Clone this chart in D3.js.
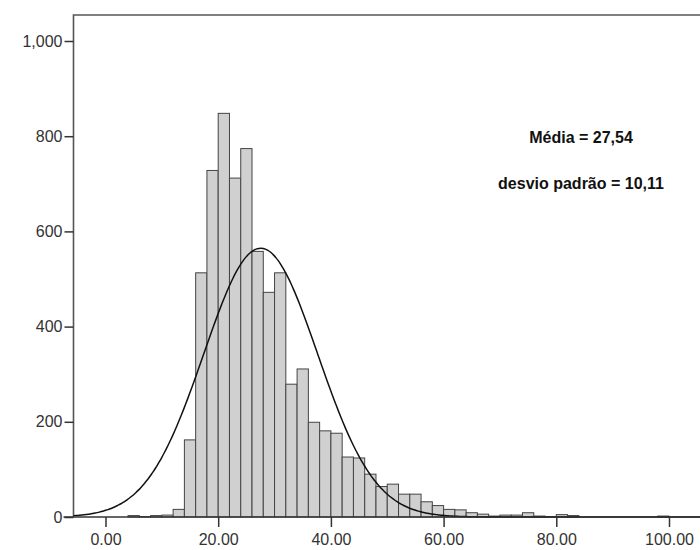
<!DOCTYPE html>
<html>
<head>
<meta charset="utf-8">
<script src="https://cdn.jsdelivr.net/npm/d3@7"></script>
<style>
  html, body { margin: 0; padding: 0; background: #fff; }
  svg { display: block; font-family: Arial, "Liberation Sans", sans-serif; }
</style>
</head>
<body>
<svg id="chart" width="700" height="550"></svg>
<script>
// Histogram: lower edge of each 2-unit bin and its frequency
const binLower = [4, 6, 8, 10, 12, 14, 16, 18, 20, 22, 24, 26, 28, 30, 32, 34, 36, 38, 40, 42,
                  44, 46, 48, 50, 52, 54, 56, 58, 60, 62, 64, 66, 68, 70, 72, 74, 76, 78, 80, 82, 98];
const binCount = [3, 1, 3, 4, 16, 162, 513, 728, 848, 712, 774, 558, 472, 513, 279, 311, 199, 181, 176, 126,
                  124, 90, 64, 69, 48, 48, 32, 24, 16, 15, 9, 6, 2, 4, 4, 9, 2, 1, 5, 3, 2];
const binWidth = 2;

// Summary statistics shown in the annotation
const mean = 27.54;
const sd = 10.11;

const xTicks = [0, 20, 40, 60, 80, 100];
const yTicks = [0, 200, 400, 600, 800, 1000];

const svg = d3.select("#chart");

const plotLeft = 73.5, plotTop = 15, plotBottom = 517, plotRight = 720;

const x = d3.scaleLinear().domain([0, 100]).range([105.5, 669]);
const y = d3.scaleLinear().domain([0, 1000]).range([plotBottom, 41]);

const bins = binLower.map((b, i) => ({ x0: b, x1: b + binWidth, n: binCount[i] }));
const total = d3.sum(binCount);

// Plot frame (right side runs off the canvas)
svg.append("path")
  .attr("d", `M${plotLeft},${plotBottom} V${plotTop} H${plotRight}`)
  .attr("fill", "none")
  .attr("stroke", "#555")
  .attr("stroke-width", 1.6);

// Bars
svg.append("g").selectAll("rect")
  .data(bins)
  .join("rect")
  .attr("x", d => x(d.x0))
  .attr("width", d => x(d.x1) - x(d.x0))
  .attr("y", d => y(d.n))
  .attr("height", d => y(0) - y(d.n))
  .attr("fill", "#d0d0d0")
  .attr("stroke", "#444")
  .attr("stroke-width", 1);

// Fitted normal curve, scaled to counts per bin
const xMin = x.invert(plotLeft), xMax = x.invert(plotRight);
const curvePts = d3.range(0, 301).map(i => {
  const v = xMin + (xMax - xMin) * i / 300;
  const z = (v - mean) / sd;
  return [v, total * binWidth * Math.exp(-0.5 * z * z) / (sd * Math.sqrt(2 * Math.PI))];
});
svg.append("path")
  .datum(curvePts)
  .attr("d", d3.line().x(d => x(d[0])).y(d => y(d[1])).curve(d3.curveBasis))
  .attr("fill", "none")
  .attr("stroke", "#111")
  .attr("stroke-width", 1.5);

// Y axis
const yAxis = svg.append("g")
  .attr("transform", `translate(${plotLeft},0)`)
  .call(d3.axisLeft(y).tickValues(yTicks).tickFormat(d3.format(",")).tickSize(9).tickPadding(2));
yAxis.select(".domain").remove();
yAxis.selectAll(".tick line").attr("stroke", "#333").attr("stroke-width", 1.5);
yAxis.selectAll(".tick text").attr("fill", "#333").style("font-size", "16px");

// X axis
const xAxis = svg.append("g")
  .attr("transform", `translate(0,${plotBottom})`)
  .call(d3.axisBottom(x).tickValues(xTicks).tickFormat(d3.format(".2f")).tickSize(10).tickPadding(7));
xAxis.select(".domain").remove();
xAxis.selectAll(".tick line").attr("stroke", "#333").attr("stroke-width", 1.5);
xAxis.selectAll(".tick text").attr("fill", "#333").style("font-size", "16px");

svg.append("line")
  .attr("x1", plotLeft - 10).attr("x2", plotRight)
  .attr("y1", plotBottom).attr("y2", plotBottom)
  .attr("stroke", "#333").attr("stroke-width", 1.6);

// Annotation
const note = svg.append("g")
  .attr("text-anchor", "middle")
  .attr("font-weight", "bold")
  .attr("fill", "#111")
  .style("font-size", "16px");
note.append("text").attr("x", 581).attr("y", 143).text(`Média = ${d3.format(".2f")(mean).replace(".", ",")}`);
note.append("text").attr("x", 581).attr("y", 189).text(`desvio padrão = ${d3.format(".2f")(sd).replace(".", ",")}`);
</script>
</body>
</html>
